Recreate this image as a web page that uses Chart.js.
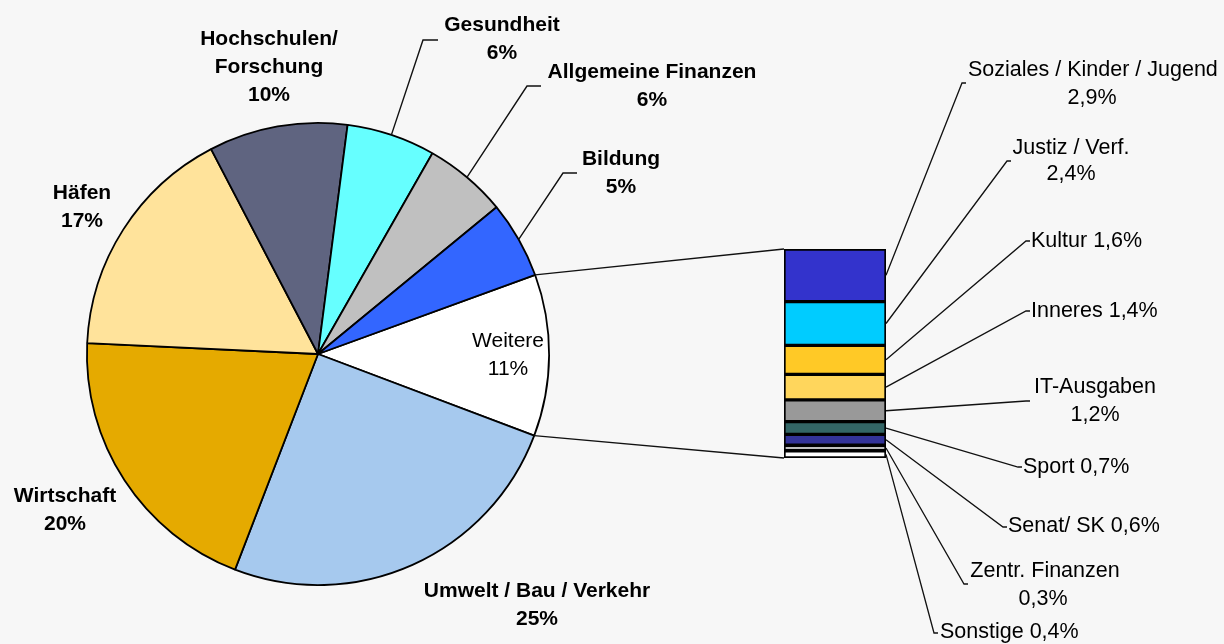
<!DOCTYPE html>
<html>
<head>
<meta charset="utf-8">
<script src="https://cdn.jsdelivr.net/npm/chart.js@4.4.1/dist/chart.umd.min.js"></script>
<style>
  html, body { margin: 0; padding: 0; background: #f7f7f7; overflow: hidden; }
  #wrap { position: relative; width: 1224px; height: 644px; }
  #wrap canvas { position: absolute; left: 0; top: 0; }
</style>
</head>
<body>
<div id="wrap">
  <canvas id="pie" width="1224" height="644"></canvas>
  <canvas id="bar" width="1224" height="644"></canvas>
</div>
<script>
// main areas (share in %), clockwise from "Weitere"
const pieNames = [["Weitere"], ["Umwelt / Bau / Verkehr"], ["Wirtschaft"], ["Häfen"],
                  ["Hochschulen/", "Forschung"], ["Gesundheit"], ["Allgemeine Finanzen"], ["Bildung"]];
const pieValues = [11.3, 25.1, 19.9, 16.6, 9.7, 6.2, 5.8, 5.4];
const pieColors = ["#ffffff", "#a6c9ee", "#e5aa00", "#ffe39b", "#5f6480", "#66ffff", "#c0c0c0", "#3366ff"];

// breakdown of "Weitere" (share in %), top to bottom
const subNames = ["Soziales / Kinder / Jugend", "Justiz / Verf.", "Kultur", "Inneres", "IT-Ausgaben",
                  "Sport", "Senat/ SK", "Zentr. Finanzen", "Sonstige"];
const subValues = [2.9, 2.4, 1.6, 1.4, 1.2, 0.7, 0.6, 0.3, 0.4];
const subColors = ["#3333cc", "#00ccff", "#ffc926", "#ffd65c", "#999999", "#336666", "#333399", "#c0c0c0", "#ffffff"];

// label placement (layout only)
const pieLayout = [
  { x: 508, y: 341, bold: false },
  { x: 537, y: 591, bold: true },
  { x: 65,  y: 496, bold: true },
  { x: 82,  y: 193, bold: true },
  { x: 269, y: 39,  bold: true },
  { x: 502, y: 25,  bold: true, elbow: [423, 40], stub: 15 },
  { x: 652, y: 72,  bold: true, elbow: [527, 86], stub: 14 },
  { x: 621, y: 159, bold: true, elbow: [563, 173], stub: 14 }
];
// end: where the leader stops; text: [x, y, align] per line
const subLayout = [
  { end: [966, 83],  twoLine: true, l1: [968, 70, "left"],  l2: [1092, 98, "center"] },
  { end: [1011, 161], twoLine: true, l1: [1071, 148, "center"], l2: [1071, 174, "center"] },
  { end: [1030, 241], twoLine: false, l1: [1031, 241, "left"] },
  { end: [1030, 311], twoLine: false, l1: [1031, 311, "left"] },
  { end: [1030, 401], twoLine: true, l1: [1095, 387, "center"], l2: [1095, 415, "center"] },
  { end: [1022, 467], twoLine: false, l1: [1023, 467, "left"] },
  { end: [1007, 527], twoLine: false, l1: [1008, 526, "left"] },
  { end: [968, 584], twoLine: true, l1: [1045, 571, "center"], l2: [1043, 599, "center"] },
  { end: [938, 633], twoLine: false, l1: [940, 632, "left"] }
];

const FONT = "'Liberation Sans', Arial, sans-serif";
const LINE_H = 28;

function pct(v) {
  return v.toLocaleString("de-DE", { minimumFractionDigits: 1 }) + "%";
}

const pieCallouts = {
  id: "pieCallouts",
  afterDatasetsDraw(chart) {
    const ctx = chart.ctx;
    const arcs = chart.getDatasetMeta(0).data;
    ctx.save();
    ctx.strokeStyle = "#111";
    ctx.lineWidth = 1.4;
    ctx.fillStyle = "#000";
    ctx.textBaseline = "middle";
    ctx.textAlign = "center";
    pieLayout.forEach((p, i) => {
      const a = arcs[i];
      if (p.elbow) {
        const mid = (a.startAngle + a.endAngle) / 2;
        ctx.beginPath();
        ctx.moveTo(a.x + Math.cos(mid) * a.outerRadius, a.y + Math.sin(mid) * a.outerRadius);
        ctx.lineTo(p.elbow[0], p.elbow[1]);
        ctx.lineTo(p.elbow[0] + p.stub, p.elbow[1]);
        ctx.stroke();
      }
      ctx.font = (p.bold ? "bold " : "") + "21px " + FONT;
      const lines = pieNames[i].concat([Math.round(pieValues[i]) + "%"]);
      lines.forEach((t, k) => ctx.fillText(t, p.x, p.y + k * LINE_H));
    });
    ctx.restore();
  }
};

const pieChart = new Chart(document.getElementById("pie"), {
  type: "pie",
  data: {
    labels: pieNames.map(n => n.join(" ")),
    datasets: [{
      data: pieValues,
      backgroundColor: pieColors,
      borderColor: "#000",
      borderWidth: 1.8
    }]
  },
  options: {
    responsive: false,
    animation: false,
    rotation: 70,
    layout: { padding: { left: 86, right: 674, top: 122, bottom: 58 } },
    plugins: { legend: { display: false }, tooltip: { enabled: false } }
  },
  plugins: [pieCallouts]
});

const barCallouts = {
  id: "barCallouts",
  afterDatasetsDraw(chart) {
    const ctx = chart.ctx;
    const area = chart.chartArea;
    const w = pieChart.getDatasetMeta(0).data[0];
    ctx.save();
    ctx.strokeStyle = "#111";
    ctx.lineWidth = 1.3;
    // connectors from the "Weitere" slice to the bar
    ctx.beginPath();
    ctx.moveTo(w.x + Math.cos(w.startAngle) * w.outerRadius, w.y + Math.sin(w.startAngle) * w.outerRadius);
    ctx.lineTo(area.left, area.top);
    ctx.moveTo(w.x + Math.cos(w.endAngle) * w.outerRadius, w.y + Math.sin(w.endAngle) * w.outerRadius);
    ctx.lineTo(area.left, area.bottom);
    ctx.stroke();

    ctx.fillStyle = "#000";
    ctx.textBaseline = "middle";
    ctx.font = "21.5px " + FONT;
    subLayout.forEach((s, i) => {
      const el = chart.getDatasetMeta(i).data[0];
      const my = (el.y + el.base) / 2;
      ctx.beginPath();
      ctx.moveTo(area.right, my);
      ctx.lineTo(s.end[0] - 4, s.end[1]);
      ctx.lineTo(s.end[0], s.end[1]);
      ctx.stroke();
      if (s.twoLine) {
        ctx.textAlign = s.l1[2];
        ctx.fillText(subNames[i], s.l1[0], s.l1[1]);
        ctx.textAlign = s.l2[2];
        ctx.fillText(pct(subValues[i]), s.l2[0], s.l2[1]);
      } else {
        ctx.textAlign = s.l1[2];
        ctx.fillText(subNames[i] + " " + pct(subValues[i]), s.l1[0], s.l1[1]);
      }
    });
    ctx.restore();
  }
};

const subTotal = subValues.reduce((a, b) => a + b, 0);

new Chart(document.getElementById("bar"), {
  type: "bar",
  data: {
    labels: ["Weitere"],
    datasets: subNames.map((n, i) => ({
      label: n,
      data: [subValues[i]],
      backgroundColor: subColors[i],
      borderColor: "#000",
      borderWidth: 2,
      borderSkipped: false,
      barPercentage: 1,
      categoryPercentage: 1
    }))
  },
  options: {
    responsive: false,
    animation: false,
    layout: { padding: { left: 784, right: 338, top: 249, bottom: 186 } },
    scales: {
      x: { display: false, stacked: true },
      y: { display: false, stacked: true, min: 0, max: subTotal, reverse: true }
    },
    plugins: { legend: { display: false }, tooltip: { enabled: false } }
  },
  plugins: [barCallouts]
});
</script>
</body>
</html>
